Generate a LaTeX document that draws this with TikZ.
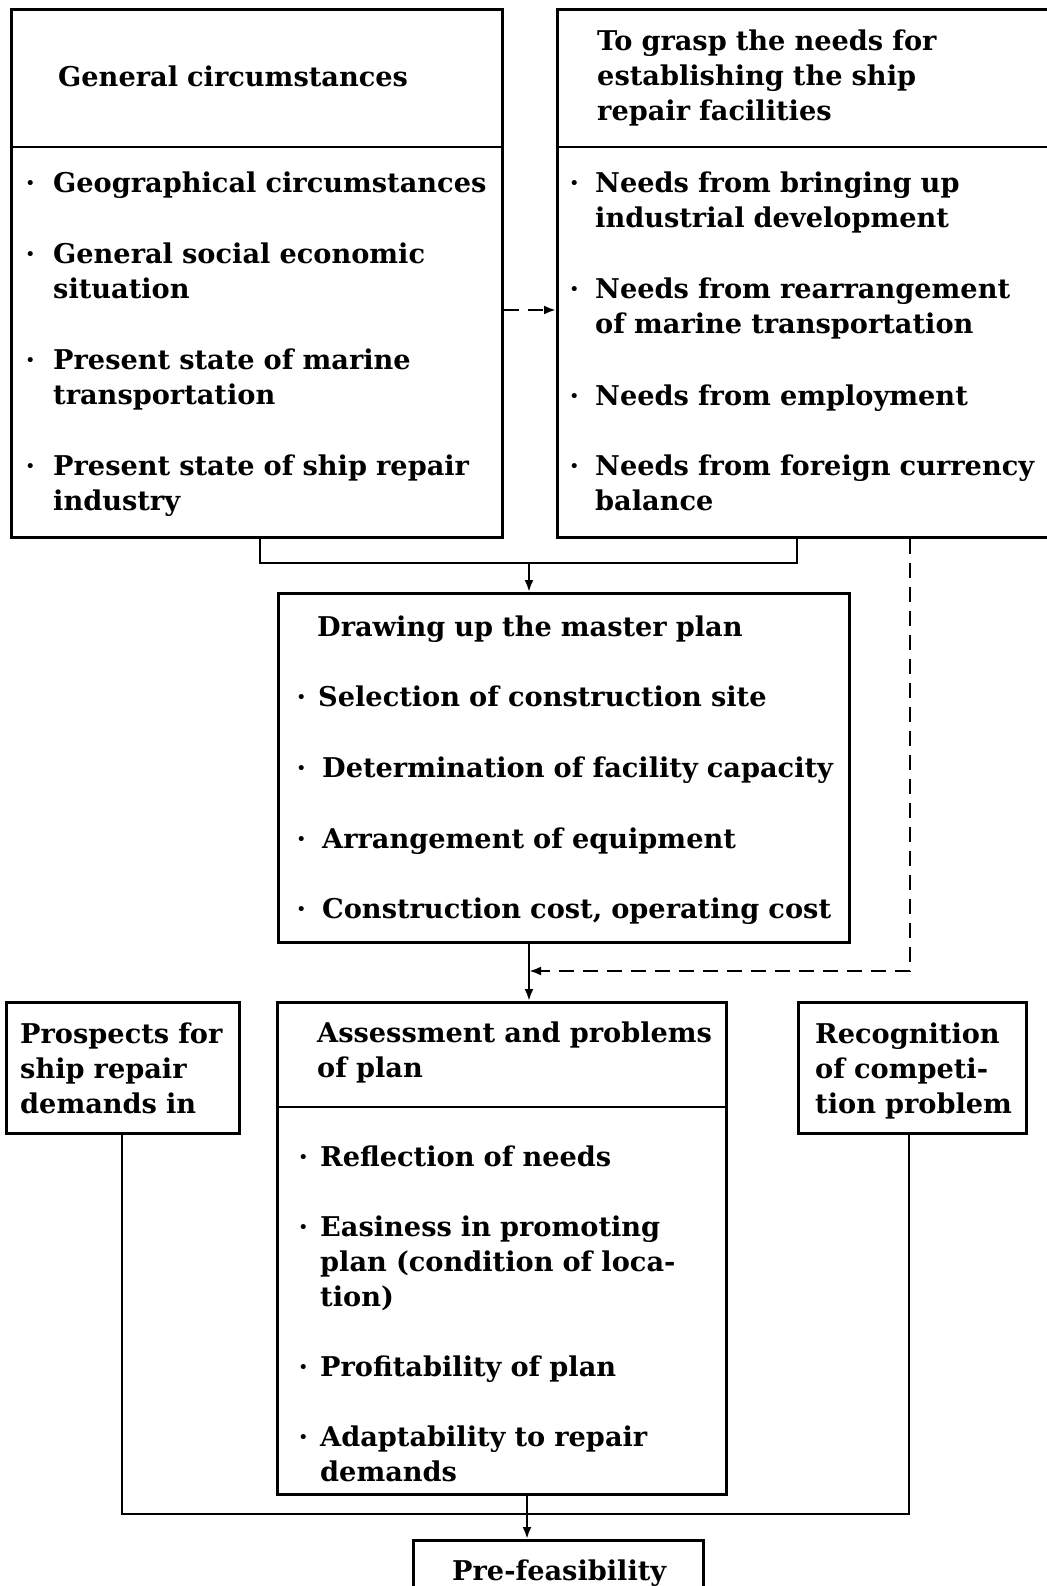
\documentclass[tikz,border=0pt]{standalone}
\usepackage{fontspec}
\setmainfont{DejaVu Serif}
\usetikzlibrary{arrows.meta}

\tikzset{
  box/.style={draw, line width=2.8pt, inner sep=0pt, anchor=north west},
  txt/.style={anchor=base west, inner sep=0pt, text width=560pt, align=left,
    font=\fontsize{27.2}{35}\selectfont\bfseries},
  link/.style={line width=2.8pt},
  arr/.style={link, -{Latex[length=12pt,width=9pt]}},
  dashline/.style={dash pattern=on 15pt off 9pt}
}
\newcommand{\bul}[1]{\llap{·\hskip#1pt}}

\begin{document}
\begin{tikzpicture}[x=1pt,y=-1pt]
\fill[white] (0,0) rectangle (1046,1586);
\useasboundingbox (0,0) rectangle (1046,1586);

% boxes
\node[box, minimum width=491pt, minimum height=528pt] (gen) at (10,8) {};
\node[box, minimum width=500pt, minimum height=528pt] (needs) at (556,8) {};
\node[box, minimum width=571pt, minimum height=349pt] (plan) at (277,592) {};
\node[box, minimum width=233pt, minimum height=131pt] (prosp) at (5,1001) {};
\node[box, minimum width=449pt, minimum height=492pt] (assess) at (276,1001) {};
\node[box, minimum width=228pt, minimum height=131pt] (recog) at (797,1001) {};
\node[box, minimum width=290pt, minimum height=90pt] (pre) at (412,1539) {};

\draw[link] (gen.west |- 0,147) -- (gen.east |- 0,147);
\draw[link] (needs.west |- 0,147) -- (needs.east |- 0,147);
\draw[link] (assess.west |- 0,1107) -- (assess.east |- 0,1107);

% texts
\node[txt] (genh) at (58,87) {General circumstances};
\node[txt] (g1) at (53,193) {\bul{18}Geographical circumstances};
\node[txt] (g2) at (53,264) {\bul{18}General social economic\\situation};
\node[txt] (g3) at (53,369) {\bul{18}Present state of marine\\transportation};
\node[txt] (g4) at (53,475) {\bul{18}Present state of ship repair\\industry};

\node[txt] (needsh) at (597,51) {To grasp the needs for\\establishing the ship\\repair facilities};
\node[txt] (n1) at (595,193) {\bul{16}Needs from bringing up\\industrial development};
\node[txt] (n2) at (595,299) {\bul{16}Needs from rearrangement\\of marine transportation};
\node[txt] (n3) at (595,405) {\bul{16}Needs from employment};
\node[txt] (n4) at (595,475) {\bul{16}Needs from foreign currency\\balance};

\node[txt] (planh) at (317,636) {Drawing up the master plan};
\node[txt] (p1) at (318,706) {\bul{12}Selection of construction site};
\node[txt] (p2) at (322,777) {\bul{16}Determination of facility capacity};
\node[txt] (p3) at (322,848) {\bul{16}Arrangement of equipment};
\node[txt] (p4) at (322,918) {\bul{16}Construction cost, operating cost};

\node[txt] (prosph) at (20,1043) {Prospects for\\ship repair\\demands in};
\node[txt] (recogh) at (815,1043) {Recognition\\of competi-\\tion problem};

\node[txt] (assessh) at (317,1042) {Assessment and problems\\of plan};
\node[txt] (a1) at (320,1166) {\bul{12}Reflection of needs};
\node[txt] (a2) at (320,1236) {\bul{12}Easiness in promoting\\plan (condition of loca-\\tion)};
\node[txt] (a3) at (320,1376) {\bul{12}Profitability of plan};
\node[txt] (a4) at (320,1446) {\bul{12}Adaptability to repair\\demands};

\node[txt] (preh) at (452,1580) {Pre-feasibility};

% connectors
\coordinate (top) at (529,563);
\coordinate (back) at (529,971);
\coordinate (bot) at (527,1514);

\draw[arr, dashline] (gen.east |- 0,310) -- (needs.west |- 0,310);
\draw[link] (gen.south -| 260,0) |- (top) -| (needs.south -| 797,0);
\draw[arr] (top) -- (plan.north -| top);
\draw[arr, dashline] (needs.south -| 910,0) |- (back);
\draw[arr] (plan.south -| top) -- (assess.north -| top);
\draw[link] (prosp.south -| 122,0) |- (bot) -| (recog.south -| 909,0);
\draw[arr] (assess.south -| bot) -- (pre.north -| bot);
\end{tikzpicture}
\end{document}
